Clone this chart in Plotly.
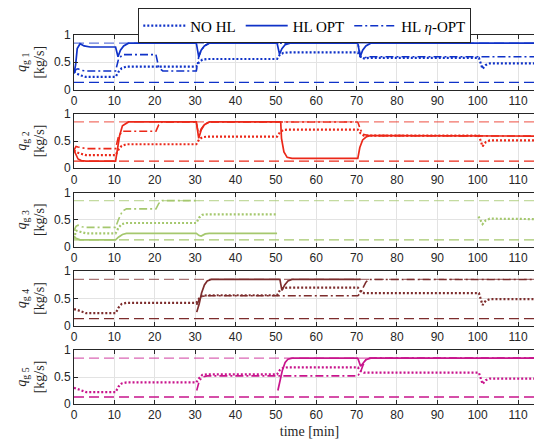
import plotly.graph_objects as go

T_END = 116.67
Q_MAX = 0.85
Q_MIN = 0.13

# ---------------- data ----------------
t_std = [0, 0.5, 1.5, 3, 10.3, 11, 11.8, 13, 30.3, 31, 31.8, 33, 50.3, 51, 51.8, 53,
         70.3, 71, 71.8, 73, 100.3, 101.2, 102, 103, 116.67]

# boiler 1
t_nohl_1 = t_std
q_nohl_1 = [0.33, 0.3, 0.26, 0.23, 0.23, 0.32, 0.39, 0.42, 0.42, 0.5, 0.55, 0.56, 0.56, 0.64, 0.67, 0.68,
            0.68, 0.6, 0.57, 0.58, 0.58, 0.38, 0.45, 0.48, 0.48]
t_opt_1 = [0, 0.4, 0.8, 1.5, 2.5, 4, 10.3, 10.9, 11.5, 12.3, 13.5, 30.3, 30.9, 31.5, 32.3, 33.5,
           50.3, 50.9, 51.5, 52.3, 53.5, 70.3, 70.9, 71.5, 72.3, 73.5, 116.67]
q_opt_1 = [0.3, 0.45, 0.75, 0.84, 0.8, 0.78, 0.78, 0.6, 0.72, 0.8, 0.85, 0.85, 0.6, 0.72, 0.8, 0.85,
           0.85, 0.65, 0.75, 0.82, 0.85, 0.85, 0.6, 0.72, 0.8, 0.85, 0.85]
t_eta_1 = [0, 0.5, 1, 2, 3, 10.3, 11, 12, 20.3, 21, 22, 30.3, 30.9, 31.5, 32.3, 33.5, 70.3, 71, 71.8, 73, 116.67]
q_eta_1 = [0.3, 0.37, 0.38, 0.35, 0.34, 0.34, 0.55, 0.64, 0.64, 0.4, 0.34, 0.34, 0.6, 0.72, 0.8, 0.85,
           0.85, 0.6, 0.58, 0.6, 0.6]

# boiler 2
t_nohl_2 = t_std
q_nohl_2 = [0.33, 0.3, 0.27, 0.24, 0.24, 0.34, 0.41, 0.44, 0.44, 0.53, 0.57, 0.58, 0.58, 0.66, 0.7, 0.71,
            0.71, 0.64, 0.6, 0.6, 0.6, 0.4, 0.48, 0.51, 0.51]
t_opt_2 = [0, 0.5, 1, 1.8, 3, 10.3, 10.8, 11.3, 12, 13.5, 30.3, 30.9, 31.5, 32.3, 33.5, 51.2, 51.4, 52,
           52.8, 54, 70.3, 70.8, 71.5, 72.5, 73.5, 116.67]
q_opt_2 = [0.33, 0.25, 0.17, 0.14, 0.13, 0.13, 0.4, 0.6, 0.78, 0.85, 0.85, 0.55, 0.7, 0.8, 0.85, 0.85,
           0.55, 0.3, 0.2, 0.18, 0.18, 0.38, 0.52, 0.58, 0.6, 0.59]
t_eta_2 = [0, 0.5, 1, 2, 3, 10.3, 11, 12, 20.3, 21, 21.8, 30.3, 30.9, 31.5, 32.3, 33.5, 70.3, 71, 71.8, 73, 116.67]
q_eta_2 = [0.33, 0.4, 0.39, 0.37, 0.36, 0.36, 0.58, 0.68, 0.68, 0.8, 0.85, 0.85, 0.6, 0.72, 0.8, 0.85,
           0.85, 0.7, 0.62, 0.6, 0.59]

# boiler 3
t_nohl_3 = [0, 0.5, 1.5, 3, 10.3, 11, 11.8, 13, 30.3, 31, 31.8, 33, 50.3, None,
            100.2, 100.4, 101.2, 102, 103, 116.67]
q_nohl_3 = [0.15, 0.3, 0.28, 0.25, 0.25, 0.35, 0.42, 0.44, 0.44, 0.54, 0.59, 0.6, 0.6, None,
            0.56, 0.53, 0.42, 0.49, 0.52, 0.51]
t_opt_3 = [0, 0.5, 1.5, 10.3, 11, 12, 13, 30.3, 31, 31.5, 32.5, 33.5, 50.3]
q_opt_3 = [0.2, 0.16, 0.13, 0.13, 0.18, 0.23, 0.25, 0.25, 0.21, 0.2, 0.24, 0.25, 0.25]
t_eta_3 = [0, 0.5, 1, 2, 3, 10.3, 11, 12, 13, 20.3, 21, 21.8, 31]
q_eta_3 = [0.3, 0.38, 0.4, 0.37, 0.36, 0.36, 0.5, 0.66, 0.7, 0.7, 0.8, 0.85, 0.85]

# boiler 4
t_nohl_4 = t_std
q_nohl_4 = [0.3, 0.3, 0.27, 0.23, 0.23, 0.33, 0.4, 0.42, 0.42, 0.5, 0.55, 0.56, 0.56, 0.65, 0.69, 0.7,
            0.7, 0.63, 0.6, 0.6, 0.6, 0.38, 0.46, 0.49, 0.49]
t_opt_4 = [30.4, 31, 31.6, 32.3, 33, 34, 51, 51.5, 52.2, 53, 54, 71]
q_opt_4 = [0.25, 0.4, 0.6, 0.75, 0.82, 0.85, 0.85, 0.65, 0.75, 0.82, 0.85, 0.85]
t_eta_4 = [30.4, 31, 31.8, 33, 70.3, 71, 71.6, 72.3, 73, 116.67]
q_eta_4 = [0.38, 0.48, 0.54, 0.55, 0.55, 0.6, 0.7, 0.8, 0.85, 0.85]

# boiler 5
t_nohl_5 = t_std
q_nohl_5 = [0.3, 0.29, 0.26, 0.22, 0.22, 0.32, 0.38, 0.4, 0.4, 0.48, 0.54, 0.55, 0.55, 0.63, 0.67, 0.68,
            0.68, 0.61, 0.58, 0.58, 0.58, 0.37, 0.44, 0.47, 0.47]
t_opt_5 = [50.5, 51, 51.6, 52.3, 53, 54, 70.3, 71, 71.5, 72.3, 73.5, 116.67]
q_opt_5 = [0.25, 0.4, 0.62, 0.77, 0.83, 0.85, 0.85, 0.7, 0.75, 0.82, 0.85, 0.85]
t_eta_5 = [30.4, 31, 31.8, 33, 70.3, 71, 71.6, 72.3, 73, 116.67]
q_eta_5 = [0.25, 0.42, 0.5, 0.52, 0.52, 0.6, 0.72, 0.82, 0.85, 0.85]

series_names = ["NO HL", "HL OPT", "HL <i>η</i>-OPT"]
x_ticks = [0, 10, 20, 30, 40, 50, 60, 70, 80, 90, 100, 110]
y_ticks = [0, 0.5, 1]
y_tick_labels = ["0", "0.5", "1"]

colors = ["rgb(15,50,200)", "rgb(235,40,25)", "rgb(165,200,110)", "rgb(125,45,45)", "rgb(200,20,140)"]

panels = [
    (t_nohl_1, q_nohl_1, t_opt_1, q_opt_1, t_eta_1, q_eta_1),
    (t_nohl_2, q_nohl_2, t_opt_2, q_opt_2, t_eta_2, q_eta_2),
    (t_nohl_3, q_nohl_3, t_opt_3, q_opt_3, t_eta_3, q_eta_3),
    (t_nohl_4, q_nohl_4, t_opt_4, q_opt_4, t_eta_4, q_eta_4),
    (t_nohl_5, q_nohl_5, t_opt_5, q_opt_5, t_eta_5, q_eta_5),
]

# ---------------- figure ----------------
W, H = 542, 440
ML, MR, MT, MB = 66, 5, 27, 44
plot_h = H - MT - MB
fig = go.Figure()

AX = "#262626"
tick_font = dict(family="Liberation Sans", size=12, color=AX)
serif = "Times New Roman"

line_styles = [dict(dash="2px,2px", width=2.2), dict(dash="solid", width=1.7), dict(dash="8px,3px,2px,3px", width=1.6)]

for i, p in enumerate(panels):
    k = i + 1
    xa = "x" if k == 1 else f"x{k}"
    ya = "y" if k == 1 else f"y{k}"
    col = colors[i]
    for j in range(3):
        t, q = p[2 * j], p[2 * j + 1]
        fig.add_trace(go.Scatter(
            x=t, y=q, mode="lines", xaxis=xa, yaxis=ya,
            line=dict(color=col, **line_styles[j]),
            name=series_names[j], legendgroup=str(j), showlegend=(k == 1),
            connectgaps=False, hoverinfo="skip"))
    # limits
    fig.add_trace(go.Scatter(x=[0, T_END], y=[Q_MAX, Q_MAX], mode="lines", xaxis=xa, yaxis=ya,
                             line=dict(color=col, dash="10px,5px", width=1.3), opacity=0.65,
                             showlegend=False, hoverinfo="skip"))
    fig.add_trace(go.Scatter(x=[0, T_END], y=[Q_MIN, Q_MIN], mode="lines", xaxis=xa, yaxis=ya,
                             line=dict(color=col, dash="10px,5px", width=1.3),
                             showlegend=False, hoverinfo="skip"))

    top_px = 27 + 78.75 * i
    bot_px = top_px + 54.5
    d0 = max(0.0, (H - MB - bot_px) / plot_h)
    d1 = min(1.0, (H - MB - top_px) / plot_h)
    xkey = "xaxis" if k == 1 else f"xaxis{k}"
    ykey = "yaxis" if k == 1 else f"yaxis{k}"
    axis_common = dict(showline=True, linecolor=AX, linewidth=1, mirror="ticks", ticks="inside",
                       ticklen=4, tickcolor=AX, tickwidth=1, showgrid=True, gridcolor="#e3e3e3",
                       gridwidth=1, zeroline=False, tickfont=tick_font)
    fig.update_layout({
        xkey: dict(domain=[0, 1], anchor=ya, range=[0, T_END], tickvals=x_ticks,
                   ticktext=[str(v) for v in x_ticks],
                   title=dict(text="time [min]", font=dict(family=serif, size=14, color=AX), standoff=4) if k == 5 else None,
                   **axis_common),
        ykey: dict(domain=[d0, d1], anchor=xa, range=[0, 1], tickvals=y_ticks, ticktext=y_tick_labels,
                   title=dict(text=f"<i>q</i><sub>g {k}</sub><br>[kg/s]",
                              font=dict(family=serif, size=14, color=AX), standoff=5),
                   **axis_common),
    })

fig.update_layout(
    width=W, height=H,
    margin=dict(l=ML, r=MR, t=MT, b=MB, autoexpand=False),
    paper_bgcolor="white", plot_bgcolor="white",
    font=dict(family=serif),
    legend=dict(orientation="h", x=0.49, xanchor="center", yref="container", y=0.999, yanchor="top",
                bgcolor="white", bordercolor=AX, borderwidth=1,
                font=dict(family=serif, size=15, color="black"),
                itemwidth=42, tracegroupgap=0),
    showlegend=True,
)

fig.write_html("out.html")
